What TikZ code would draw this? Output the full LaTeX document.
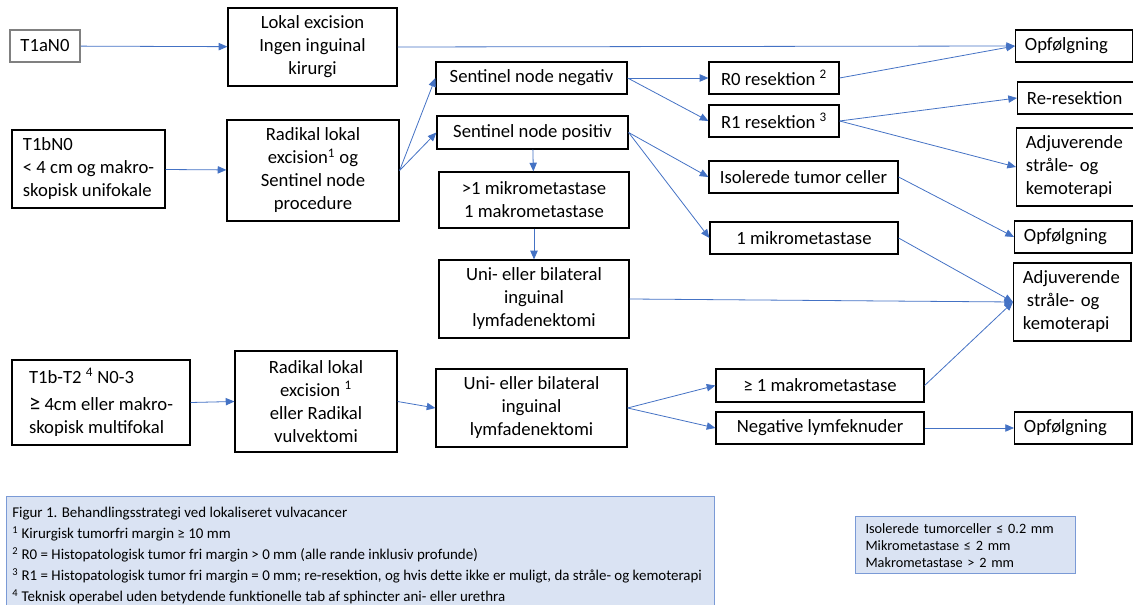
\documentclass[tikz,border=0pt]{standalone}
\usepackage{fontspec}
\setmainfont{Carlito}
\usetikzlibrary{arrows.meta,positioning}

\definecolor{arrblue}{HTML}{4472C4}
\definecolor{legfill}{HTML}{DAE3F3}
\definecolor{legline}{HTML}{7A9AD6}

\tikzset{
  box/.style={draw, line width=0.9pt, align=center, inner sep=3pt, font=\fontsize{14}{17.25}\selectfont},
  rbox/.style={box, anchor=west, align=left, inner xsep=7pt, text width=74pt},
  arr/.style={draw=arrblue, line width=0.6pt, -{Triangle[length=6.5pt,width=5.5pt]}},
  legend/.style={draw=legline, fill=legfill, line width=0.8pt, anchor=north west}
}

\begin{document}
\begin{tikzpicture}[x=0.75pt, y=-0.75pt]
    \useasboundingbox (0,0) rectangle (1133,605);

    % Stadier
    \node[box, draw=gray, line width=1.3pt, minimum width=52.5pt, minimum height=24pt] (t1a) at (45,46) {T1aN0};
    \node[box, align=left, minimum width=114.75pt, minimum height=58.5pt] (t1b) at (88.5,169) {T1bN0\\< 4 cm og makro-\\skopisk unifokale};
    \node[box, align=left, minimum width=133.5pt, minimum height=63.75pt] (t1bt2) at (101,402.5) {T1b-T2 \textsuperscript{4} N0-3\\[3pt]{\fontsize{17}{17}\selectfont ≥} 4cm eller makro-\\skopisk multifokal};

    % Kirurgi
    \node[box, minimum width=126.75pt, minimum height=58.5pt] (lokal) at (312.5,47) {Lokal excision\\Ingen inguinal\\kirurgi};
    \node[box, minimum width=129pt, minimum height=75.75pt] (radlok) at (313,170.5) {Radikal lokal\\excision\textsuperscript{1} og\\Sentinel node\\procedure};
    \node[box, minimum width=121.5pt, minimum height=75.75pt] (radvul) at (316,401.5) {Radikal lokal\\excision \textsuperscript{1}\\eller Radikal\\vulvektomi};

    % Sentinel node
    \node[box, minimum width=143.25pt, minimum height=24pt] (snneg) at (531.5,78) {Sentinel node negativ};
    \node[box, minimum width=143.25pt, minimum height=24.75pt] (snpos) at (532.5,132.5) {Sentinel node positiv};
    \node[box, minimum width=142.5pt, minimum height=42pt] (mikro) at (534,200) {>1 mikrometastase\\1 makrometastase};
    \node[box, minimum width=142.5pt, minimum height=58.5pt] (lymfa) at (534,299) {Uni- eller bilateral\\inguinal\\lymfadenektomi};
    \node[box, minimum width=143.25pt, minimum height=58.5pt] (lymfb) at (531.5,408) {Uni- eller bilateral\\inguinal\\lymfadenektomi};

    % Resultater
    \node[box, minimum width=97.5pt, minimum height=24pt] (rnul) at (774,78) {R0 resektion \textsuperscript{2}};
    \node[box, minimum width=97.5pt, minimum height=24pt] (ren) at (774,121) {R1 resektion \textsuperscript{3}};
    \node[box, minimum width=141.75pt, minimum height=24pt] (itc) at (803.5,177) {Isolerede tumor celler};
    \node[box, minimum width=141pt, minimum height=24pt] (mikeen) at (804,238) {1 mikrometastase};
    \node[box, minimum width=156pt, minimum height=24.75pt] (makro) at (820,385.5) {≥ 1 makrometastase};
    \node[box, minimum width=156pt, minimum height=24pt] (neg) at (820,428) {Negative lymfeknuder};

    % Opfoelgning / behandling
    \node[rbox, minimum height=24pt] (opfa) at (1015,46) {Opfølgning};
    \node[rbox, minimum height=24pt] (reres) at (1017,98) {Re-resektion};
    \node[rbox, minimum height=58.5pt] (adja) at (1016,167) {Adjuverende\\stråle- og\\kemoterapi};
    \node[rbox, minimum height=24pt] (opfb) at (1014,237) {Opfølgning};
    \node[rbox, minimum height=58.5pt] (adjb) at (1013,302) {Adjuverende\\\hspace{3pt}stråle- og\\kemoterapi};
    \node[rbox, minimum height=24pt] (opfc) at (1014,428) {Opfølgning};

    % Pile
    \draw[arr] (t1a) -- (lokal);
    \draw[arr] (lokal.east) -- (opfa.west);
    \draw[arr] (t1b) -- (radlok);
    \draw[arr] (radlok.east) -- (snneg.west);
    \draw[arr] (radlok.east) -- (snpos.west);
    \draw[arr] (snneg.east) -- (rnul.west);
    \draw[arr] (snneg.east) -- (ren.west);
    \draw[arr] (snpos) -- (mikro);
    \draw[arr] (mikro) -- (lymfa);
    \draw[arr] (snpos.east) -- (itc.west);
    \draw[arr] (snpos.east) -- (mikeen.west);
    \draw[arr] (rnul.east) -- (opfa.west);
    \draw[arr] (ren.east) -- (reres.west);
    \draw[arr] (ren.east) -- (adja.west);
    \draw[arr] (itc.east) -- (opfb.west);
    \draw[arr] (mikeen.east) -- (adjb.west);
    \draw[arr] (lymfa.east) -- (adjb.west);
    \draw[arr] (makro.east) -- (adjb.west);
    \draw[arr] (t1bt2.east) -- (radvul.west);
    \draw[arr] (radvul.east) -- (lymfb.west);
    \draw[arr] (lymfb.east) -- (makro.west);
    \draw[arr] (lymfb.east) -- (neg.west);
    \draw[arr] (neg) -- (opfc);

    % Forklaringer
    \node[legend, minimum width=531pt, minimum height=90pt] (figleg) at (6,496) {};
    \node[anchor=north west, align=left, inner sep=0pt, font=\fontsize{11.2}{15.75}\selectfont] (figtxt) at (12,507)
      {Figur 1. Behandlingsstrategi ved lokaliseret vulvacancer\\
       \textsuperscript{1} Kirurgisk tumorfri margin ≥ 10 mm\\
       \textsuperscript{2} R0 = Histopatologisk tumor fri margin > 0 mm (alle rande inklusiv profunde)\\
       \textsuperscript{3} R1 = Histopatologisk tumor fri margin = 0 mm; re-resektion, og hvis dette ikke er muligt, da stråle- og kemoterapi\\
       \textsuperscript{4} Teknisk operabel uden betydende funktionelle tab af sphincter ani- eller urethra};
    \node[legend, align=left, inner xsep=7.5pt, inner ysep=5pt, text width=150pt, font=\fontsize{10.7}{12.75}\selectfont] (defleg) at (855,516)
      {Isolerede tumorceller ≤ 0.2 mm\\Mikrometastase ≤ 2 mm\\Makrometastase > 2 mm};
\end{tikzpicture}
\end{document}
